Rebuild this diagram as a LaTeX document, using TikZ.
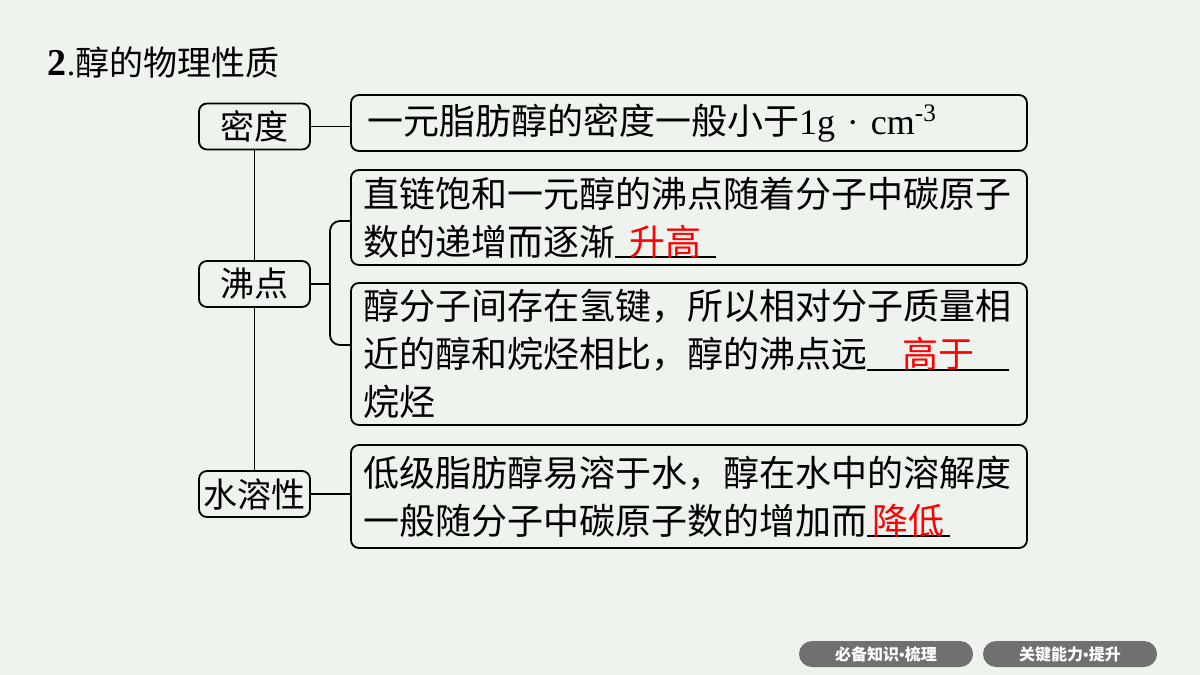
\documentclass[tikz,border=0pt]{standalone}
\usepackage{fontspec}
\setmainfont{Liberation Serif}
\newfontfamily\cjk{Noto Sans CJK SC}
\usepackage{xcolor}
\usetikzlibrary{positioning}
\definecolor{paper}{HTML}{EEF3EE}
\definecolor{pill}{HTML}{707070}
\newcommand\blank[2]{\rlap{\rule[-1.5pt]{#1}{1pt}}\makebox[#1]{\color{red}#2}}

\begin{document}
\begin{tikzpicture}[x=0.5pt,y=-0.5pt,line width=0.9pt,
 key/.style={draw,rounded corners=4pt,minimum width=55.5pt,minimum height=23pt,inner sep=0pt,font=\cjk\fontsize{17}{20}\selectfont},
 info/.style={draw,rounded corners=4pt,minimum width=338pt,text width=326pt,inner xsep=6pt,inner ysep=1pt,align=left,font=\cjk\fontsize{18}{24}\selectfont},
 tab/.style={fill=pill,rounded corners=6.5pt,minimum width=87pt,minimum height=13pt,inner sep=0pt,text=white,font=\cjk\bfseries\fontsize{8}{9}\selectfont}]
\fill[paper] (0,0) rectangle (1200,675);
\node[anchor=west,inner sep=0pt,font=\fontsize{17}{20}\selectfont] (title) at (47,63) {{\fontsize{19}{20}\selectfont\textbf{2}}.{\cjk 醇的物理性质}};
\node[key] (a) at (254.5,126.5) {密度};
\node[key] (b) at (254.5,284) {沸点};
\node[key] (c) at (254.5,494) {水溶性};
\node[info,minimum height=28pt] (p) at (689,123) {\hspace{2pt}一元脂肪醇的密度一般小于{\rmfamily 1g\hspace{6pt}·\hspace{6pt}cm\textsuperscript{-3}}};
\node[info,minimum height=47.5pt] (q) at (689,217.5) {直链饱和一元醇的沸点随着分子中碳原子\\数的递增而逐渐\blank{50.5pt}{升高}};
\node[info,minimum height=71pt] (r) at (689,354) {醇分子间存在氢键，所以相对分子质量相\\近的醇和烷烃相比，醇的沸点远\blank{71pt}{高于}\\烷烃};
\node[info,minimum height=51.5pt] (s) at (689,496.5) {低级脂肪醇易溶于水，醇在水中的溶解度\\一般随分子中碳原子数的增加而\blank{41.5pt}{降低}};
\coordinate (fork) at (330,284);
\draw (a) -- (b) (b) -- (c);
\draw (a.east) -- (a.east -| p.west);
\draw (b.east) -- (fork);
\draw[rounded corners=5pt] ([yshift=-1.75pt]q.west) -| (fork) |- ([yshift=4.5pt]r.west);
\draw (c.east) -- (c.east -| s.west);
\node[tab] (t1) at (886,654) {必备知识{\rmfamily\textbullet}梳理};
\node[tab] (t2) at (1070,654) {关键能力{\rmfamily\textbullet}提升};
\end{tikzpicture}
\end{document}
